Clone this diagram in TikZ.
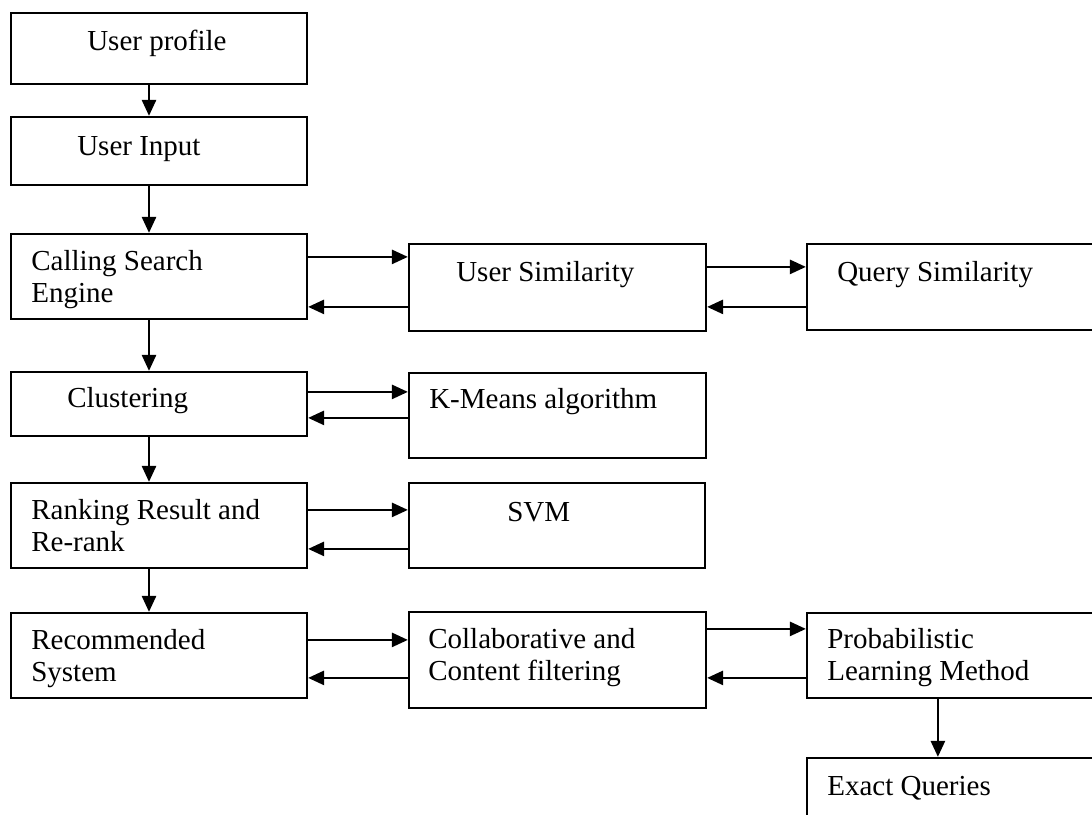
\documentclass[tikz,border=0pt]{standalone}
\usepackage{fontspec}
\setmainfont{Liberation Serif}
\usepackage{tikz}
\usetikzlibrary{arrows.meta}

\begin{document}
\begin{tikzpicture}[x=0.5pt, y=-0.5pt,
    box/.style={draw=black, line width=1.1pt, fill=white, inner sep=0pt},
    txt/.style={anchor=base west, inner sep=0pt, align=left, font=\fontsize{14.5}{16}\selectfont},
    arr/.style={line width=1.3pt, -{Triangle[length=8pt, width=7pt]}}]
    \useasboundingbox (0,0) rectangle (1092,814);
    \clip (0,0) rectangle (1092,814);
    % left column
    \node[box, minimum width=148pt, minimum height=35.5pt] (prof) at (159,48.5) {};
    \node[box, minimum width=148pt, minimum height=34pt] (inp) at (159,151) {};
    \node[box, minimum width=148pt, minimum height=42.5pt] (cse) at (159,276.5) {};
    \node[box, minimum width=148pt, minimum height=32pt] (clu) at (159,404) {};
    \node[box, minimum width=148pt, minimum height=42.5pt] (rank) at (159,525.5) {};
    \node[box, minimum width=148pt, minimum height=42.5pt] (rec) at (159,655.5) {};
    % middle column
    \node[box, minimum width=148.5pt, minimum height=43.5pt] (usim) at (557.5,287.5) {};
    \node[box, minimum width=148.5pt, minimum height=42.5pt] (kmeans) at (557.5,415.5) {};
    \node[box, minimum width=148pt, minimum height=42.5pt] (svm) at (557,525.5) {};
    \node[box, minimum width=148.5pt, minimum height=48pt] (colab) at (557.5,660) {};
    % right column
    \node[box, minimum width=150pt, minimum height=43pt] (qsim) at (957,287) {};
    \node[box, minimum width=150pt, minimum height=42.5pt] (prob) at (957,655.5) {};
    \node[box, minimum width=150pt, minimum height=41pt] (exq) at (957,799) {};
    % labels (base = last line)
    \node[txt] (tprof) at ([shift={(77,39)}]prof.north west) {User profile};
    \node[txt] (tinp) at ([shift={(67,40)}]inp.north west) {User Input};
    \node[txt] (tcse) at ([shift={(21,70)}]cse.north west) {Calling Search\\Engine};
    \node[txt] (tclu) at ([shift={(57,37)}]clu.north west) {Clustering};
    \node[txt] (trank) at ([shift={(21,70)}]rank.north west) {Ranking Result and\\Re-rank};
    \node[txt] (trec) at ([shift={(21,70)}]rec.north west) {Recommended\\System};
    \node[txt] (tusim) at ([shift={(48,39)}]usim.north west) {User Similarity};
    \node[txt] (tkm) at ([shift={(21,37)}]kmeans.north west) {K-Means algorithm};
    \node[txt] (tsvm) at ([shift={(99,40)}]svm.north west) {SVM};
    \node[txt] (tcolab) at ([shift={(20,70)}]colab.north west) {Collaborative and\\Content filtering};
    \node[txt] (tqsim) at ([shift={(31,39)}]qsim.north west) {Query Similarity};
    \node[txt] (tprob) at ([shift={(21,69)}]prob.north west) {Probabilistic\\Learning Method};
    \node[txt] (texq) at ([shift={(21,39)}]exq.north west) {Exact Queries};
    % main flow
    \draw[arr] ([shift={(-10,0)}]prof.south) -- ([shift={(-10,0)}]prof.south |- inp.north);
    \draw[arr] ([shift={(-10,0)}]inp.south) -- ([shift={(-10,0)}]inp.south |- cse.north);
    \draw[arr] ([shift={(-10,0)}]cse.south) -- ([shift={(-10,0)}]cse.south |- clu.north);
    \draw[arr] ([shift={(-10,0)}]clu.south) -- ([shift={(-10,0)}]clu.south |- rank.north);
    \draw[arr] ([shift={(-10,0)}]rank.south) -- ([shift={(-10,0)}]rank.south |- rec.north);
    % side loops
    \draw[arr] ([shift={(0,24)}]cse.north east) -- ([shift={(0,24)}]cse.north east -| usim.west);
    \draw[arr] ([shift={(0,74)}]cse.north east -| usim.west) -- ([shift={(0,74)}]cse.north east);
    \draw[arr] ([shift={(0,24)}]usim.north east) -- ([shift={(0,24)}]usim.north east -| qsim.west);
    \draw[arr] ([shift={(0,64)}]usim.north east -| qsim.west) -- ([shift={(0,64)}]usim.north east);
    \draw[arr] ([shift={(0,21)}]clu.north east) -- ([shift={(0,21)}]clu.north east -| kmeans.west);
    \draw[arr] ([shift={(0,47)}]clu.north east -| kmeans.west) -- ([shift={(0,47)}]clu.north east);
    \draw[arr] ([shift={(0,28)}]rank.north east) -- ([shift={(0,28)}]rank.north east -| svm.west);
    \draw[arr] ([shift={(0,67)}]rank.north east -| svm.west) -- ([shift={(0,67)}]rank.north east);
    \draw[arr] ([shift={(0,28)}]rec.north east) -- ([shift={(0,28)}]rec.north east -| colab.west);
    \draw[arr] ([shift={(0,66)}]rec.north east -| colab.west) -- ([shift={(0,66)}]rec.north east);
    \draw[arr] ([shift={(0,18)}]colab.north east) -- ([shift={(0,18)}]colab.north east -| prob.west);
    \draw[arr] ([shift={(0,67)}]colab.north east -| prob.west) -- ([shift={(0,67)}]colab.north east);
    \draw[arr] ([shift={(132,0)}]prob.south west) -- ([shift={(132,0)}]prob.south west |- exq.north);
\end{tikzpicture}
\end{document}
